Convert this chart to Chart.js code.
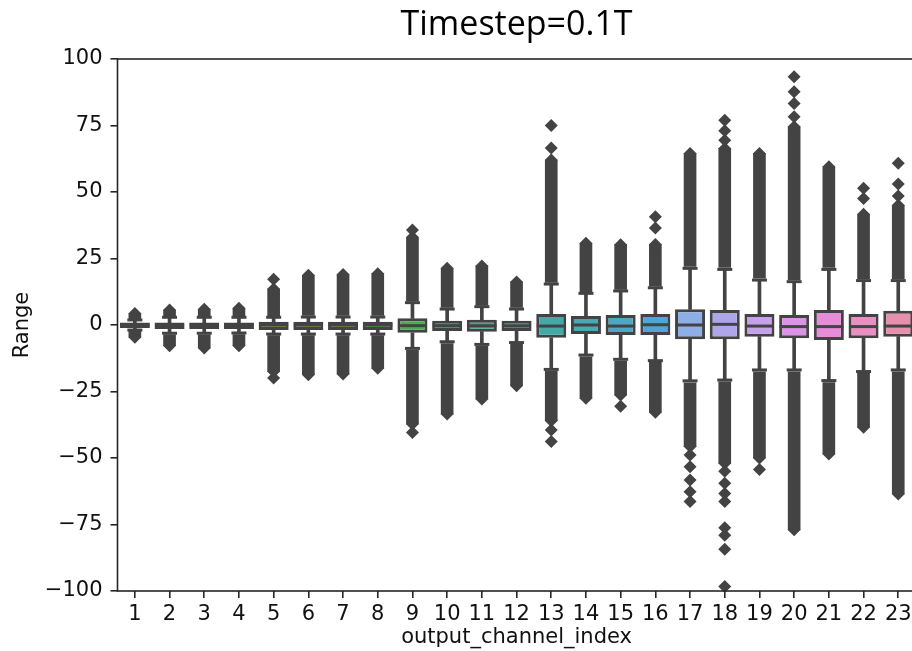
<!DOCTYPE html>
<html><head><meta charset="utf-8">
<script src="https://cdn.jsdelivr.net/npm/chart.js@4.4.1/dist/chart.umd.min.js"></script>
<style>html,body{margin:0;padding:0;background:#fff;overflow:hidden;width:912px;height:651px}canvas{display:block}</style>
</head><body>
<canvas id="c" width="1032" height="651"></canvas>
<script>
const titleText = 'Timestep=0.1T';
const xTitle = 'output_channel_index';
const yTitle = 'Range';
const categories = ['1','2','3','4','5','6','7','8','9','10','11','12','13','14','15','16','17','18','19','20','21','22','23'];
const yTicks = [-100, -75, -50, -25, 0, 25, 50, 75, 100];

const boxLow    = [-1.1,-1.5,-1.5,-1.5,-1.9,-1.9,-1.9,-1.9,-2.9,-2.3,-2.5,-2.3,-4.8,-3.4,-3.8,-3.8,-5.4,-5.4,-4.4,-5.0,-5.6,-5.0,-4.4];
const boxMedian = [0,0,0,0,0,0,0,0,-0.25,-0.25,-0.3,-0.3,-0.4,0,-0.4,0.1,0,0.25,-0.4,-0.6,-0.6,-0.6,-0.4];
const boxHigh   = [0.9,0.9,0.9,0.9,1.25,1.25,1.25,1.25,2.5,1.6,2.0,1.6,4.1,3.4,3.8,4.1,5.9,5.6,4.1,3.8,5.6,4.1,5.4];
const whiskerLow  = [-1.9,-3.1,-3.1,-3.0,-3.4,-3.4,-3.4,-3.4,-8.8,-6.3,-7.3,-6.6,-16.7,-11.3,-12.9,-13.4,-21.0,-20.7,-16.9,-16.9,-20.9,-17.5,-16.9];
const whiskerHigh = [1.9,2.9,2.9,2.9,2.9,3.0,3.0,3.0,8.4,6.0,6.9,6.0,15.4,11.9,12.8,14.0,21.3,20.9,16.9,16.3,20.9,16.7,16.7];

const flierHighStart = [2.4,3.5,3.5,3.5,3.5,3.6,3.6,3.6,9.0,6.6,7.5,6.6,16.0,12.5,13.4,14.6,22.0,21.6,17.6,17.0,21.6,17.4,17.4];
const flierHighEnd   = [4.3,5.6,5.9,6.3,13.5,18.7,19.0,19.3,33.0,21.3,22.2,16.2,62.0,30.7,30.2,30.3,64.5,66.4,64.5,74.5,59.5,41.6,45.0];
const flierLowStart  = [-2.4,-3.7,-3.7,-3.6,-4.0,-4.0,-4.0,-4.0,-9.5,-7.0,-8.0,-7.2,-17.4,-12.0,-13.6,-14.0,-21.7,-21.4,-17.6,-17.6,-21.6,-18.2,-17.6];
const flierLowEnd    = [-4.6,-7.8,-8.6,-7.8,-17.5,-18.7,-18.4,-16.3,-37.2,-33.5,-27.8,-22.8,-36.0,-27.5,-26.3,-32.8,-45.7,-52.0,-50.0,-77.0,-48.5,-38.4,-63.5];

const sparseHigh = [[],[],[],[],[17.2],[],[],[],[35.7],[],[],[],[66.5,75.0],[],[],[36.5,40.7],[],[69.5,73.0,77.0],[],[78.3,83.3,87.7,93.3],[],[47.6,51.4],[48.5,53.0,60.8]];
const sparseLow  = [[],[],[],[],[-19.9],[],[],[],[-40.4],[],[],[],[-39.5,-43.8],[],[-30.5],[],[-48.9,-53.3,-58.3,-62.7,-66.4],[-55.0,-59.5,-63.3,-66.4,-76.2,-79.0,-84.3,-98.3],[-54.3],[],[],[],[]];

const boxColors = ['#d97f8c','#d98468','#c98d53','#b5964a','#a49c48','#93a147','#7aa747','#5aab4e','#46ad55','#3fa878','#3fa88c','#40a89b','#45a8a8','#47a9b6','#4aa8c4','#4ea5d6','#8eaee8','#aea6ea','#c6a1ea','#db93e6','#e68cd8','#e88fc4','#e88fae'];

const GRAY = '#434343';
const AXIS = '#262626';
const TXT = '#111111';
const LABEL_FONT = {family: '"DejaVu Sans"', size: 21};

const pts = (arr) => categories.map((c, i) => ({x: c, y: arr[i]}));
const diamondPts = [];
categories.forEach((c, i) => {
  diamondPts.push({x: c, y: flierHighEnd[i]});
  diamondPts.push({x: c, y: flierLowEnd[i]});
  sparseHigh[i].forEach(v => diamondPts.push({x: c, y: v}));
  sparseLow[i].forEach(v => diamondPts.push({x: c, y: v}));
});

const spines = {
  id: 'spines',
  afterDatasetsDraw(chart) {
    const {ctx, chartArea: a} = chart;
    ctx.save();
    ctx.strokeStyle = AXIS;
    ctx.lineWidth = 1.6;
    ctx.strokeRect(a.left, a.top, a.right - a.left, a.bottom - a.top);
    ctx.restore();
  }
};

const pointSet = (label, data, style, radius, order, fill) => ({
  type: 'line', label, data, showLine: false, order,
  pointStyle: style, pointRadius: radius, pointHoverRadius: radius,
  pointBorderWidth: fill ? 0 : 3, pointBorderColor: GRAY,
  pointBackgroundColor: GRAY, clip: false
});

new Chart(document.getElementById('c'), {
  type: 'bar',
  data: {
    labels: categories,
    datasets: [
      pointSet('median', pts(boxMedian), 'line', 14.5, 0, false),
      {
        type: 'bar', label: 'box', order: 1, grouped: false,
        data: categories.map((c, i) => [boxLow[i], boxHigh[i]]),
        backgroundColor: boxColors, borderColor: GRAY, borderWidth: 3,
        borderSkipped: false, barPercentage: 0.865, categoryPercentage: 1
      },
      pointSet('capHigh', pts(whiskerHigh), 'line', 7.5, 2, false),
      pointSet('capLow', pts(whiskerLow), 'line', 7.5, 2, false),
      {
        type: 'bar', label: 'whiskerHigh', order: 3, grouped: false,
        data: categories.map((c, i) => [boxHigh[i], whiskerHigh[i]]),
        backgroundColor: GRAY, barThickness: 3, borderWidth: 0
      },
      {
        type: 'bar', label: 'whiskerLow', order: 3, grouped: false,
        data: categories.map((c, i) => [whiskerLow[i], boxLow[i]]),
        backgroundColor: GRAY, barThickness: 3, borderWidth: 0
      },
      pointSet('fliers', diamondPts, 'rectRot', 6.5, 4, true),
      {
        type: 'bar', label: 'flierBandHigh', order: 5, grouped: false,
        data: categories.map((c, i) => [flierHighStart[i], flierHighEnd[i]]),
        backgroundColor: GRAY, barThickness: 12, borderWidth: 0
      },
      {
        type: 'bar', label: 'flierBandLow', order: 5, grouped: false,
        data: categories.map((c, i) => [flierLowEnd[i], flierLowStart[i]]),
        backgroundColor: GRAY, barThickness: 12, borderWidth: 0
      }
    ]
  },
  options: {
    responsive: false,
    animation: false,
    events: [],
    layout: {padding: {left: 0, right: 116.4, top: 0, bottom: 0}},
    plugins: {
      legend: {display: false},
      tooltip: {enabled: false},
      title: {
        display: true, fullSize: false, text: titleText, color: '#000',
        font: {family: '"Open Sans", sans-serif', size: 34, weight: 'normal'},
        padding: {top: 5, bottom: 13.2}
      }
    },
    scales: {
      x: {
        type: 'category', offset: true,
        grid: {display: true, offset: false, drawOnChartArea: false, drawTicks: true, tickLength: 7, color: AXIS, lineWidth: 1.6},
        border: {display: false},
        ticks: {color: TXT, font: LABEL_FONT, padding: 4, maxRotation: 0, autoSkip: false},
        title: {display: true, text: xTitle, color: TXT, font: LABEL_FONT, padding: {top: 0, bottom: 1}},
        afterFit: (s) => { s.height = 60; }
      },
      y: {
        type: 'linear', min: -100, max: 100,
        afterBuildTicks: (s) => { s.ticks = yTicks.map(v => ({value: v})); },
        grid: {display: true, drawOnChartArea: false, drawTicks: true, tickLength: 7, color: AXIS, lineWidth: 1.6},
        border: {display: false},
        ticks: {color: TXT, font: LABEL_FONT, padding: 8,
          callback: (v) => v < 0 ? '\u2212' + Math.abs(v) : String(v)},
        title: {display: true, text: yTitle, color: TXT, font: LABEL_FONT, padding: {top: 10, bottom: 0}},
        afterFit: (s) => { s.width = 117.5; }
      }
    }
  },
  plugins: [spines]
});
</script>
</body></html>
